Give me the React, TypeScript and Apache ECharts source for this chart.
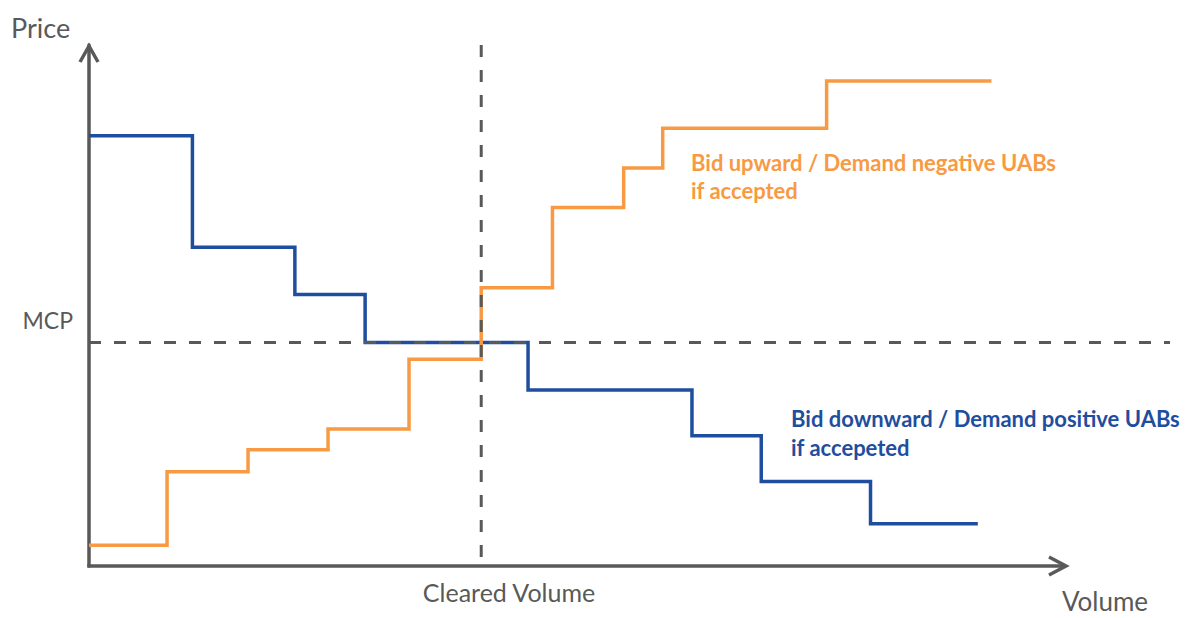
import React, { useEffect, useRef } from "react";
import * as echarts from "echarts";

// Demand (blue, "Bid downward") step curve: volume where each price level starts
const demandVolume = [0, 10.6, 21.1, 28.3, 45.0, 61.8, 68.9, 80.1, 91.1];
const demandPrice = [82.6, 61.2, 52.1, 42.9, 33.8, 25.0, 16.2, 8.1, 8.1];

// Supply (orange, "Bid upward") step curve
const supplyVolume = [0, 8.0, 16.3, 24.5, 32.8, 40.2, 47.5, 54.8, 58.8, 75.6, 92.5];
const supplyPrice = [4.0, 18.1, 22.3, 26.3, 39.7, 53.4, 68.8, 76.4, 84.0, 93.1, 93.1];

const mcp = 42.9;
const clearedVolume = 40.2;
const mcpLineEnd = 110.8;
const volumeMax = 111;
const priceMax = 100;

const GRAY = "#595959";
const BLUE = "#1F4E9E";
const ORANGE = "#F79A43";
const FONT = "Lato, 'Open Sans', sans-serif";

export default function App() {
  const ref = useRef<HTMLDivElement>(null);
  useEffect(() => {
    if (!ref.current) return;
    const chart = echarts.init(ref.current, null, { renderer: "svg" });
    const demand = demandVolume.map((v, i) => [v, demandPrice[i]]);
    const supply = supplyVolume.map((v, i) => [v, supplyPrice[i]]);
    chart.setOption({
      animation: false,
      backgroundColor: "#ffffff",
      grid: { left: 89, top: 45, width: 1083, height: 521 },
      xAxis: {
        type: "value",
        min: 0,
        max: volumeMax,
        axisLine: { show: false },
        axisTick: { show: false },
        axisLabel: { show: false },
        splitLine: { show: false },
      },
      yAxis: {
        type: "value",
        min: 0,
        max: priceMax,
        axisLine: { show: true, lineStyle: { color: GRAY, width: 3.5 } },
        axisTick: { show: false },
        axisLabel: { show: false },
        splitLine: { show: false },
      },
      series: [
        {
          type: "line",
          step: "end",
          data: demand,
          showSymbol: false,
          symbol: "none",
          lineStyle: { color: BLUE, width: 3.5, join: "miter" },
          z: 2,
        },
        {
          type: "line",
          step: "end",
          data: supply,
          showSymbol: false,
          symbol: "none",
          lineStyle: { color: ORANGE, width: 3.5, join: "miter" },
          z: 3,
        },
        {
          type: "line",
          data: [
            [0, mcp],
            [mcpLineEnd, mcp],
          ],
          clip: false,
          symbol: "none",
          lineStyle: { color: GRAY, width: 3, type: [12, 13] },
          z: 4,
        },
        {
          type: "line",
          data: [
            [clearedVolume, priceMax],
            [clearedVolume, 0],
          ],
          clip: false,
          symbol: "none",
          lineStyle: { color: GRAY, width: 3, type: [12, 13] },
          z: 4,
        },
      ],
      graphic: [
        {
          type: "line",
          shape: { x1: 87.25, y1: 566, x2: 1065, y2: 566 },
          style: { stroke: GRAY, lineWidth: 3.5 },
          z: 10,
        },
        {
          type: "polyline",
          shape: { points: [[80, 62], [89, 46], [98, 62]] },
          style: { stroke: GRAY, lineWidth: 3.5, fill: null, lineJoin: "miter" },
          z: 10,
        },
        {
          type: "polyline",
          shape: { points: [[1049, 557], [1066, 566], [1049, 575]] },
          style: { stroke: GRAY, lineWidth: 3.5, fill: null, lineJoin: "miter" },
          z: 10,
        },
        {
          type: "text",
          x: 11,
          y: 27,
          style: { text: "Price", fill: GRAY, font: `27px ${FONT}`, align: "left", verticalAlign: "middle", textAlign: "left", textVerticalAlign: "middle" },
        },
        {
          type: "text",
          x: 73,
          y: 320,
          style: { text: "MCP", fill: GRAY, font: `23px ${FONT}`, align: "right", verticalAlign: "middle", textAlign: "right", textVerticalAlign: "middle" },
        },
        {
          type: "text",
          x: 509,
          y: 592,
          style: { text: "Cleared Volume", fill: GRAY, font: `25px ${FONT}`, align: "center", verticalAlign: "middle", textAlign: "center", textVerticalAlign: "middle" },
        },
        {
          type: "text",
          x: 1105,
          y: 601,
          style: { text: "Volume", fill: GRAY, font: `26px ${FONT}`, align: "center", verticalAlign: "middle", textAlign: "center", textVerticalAlign: "middle" },
        },
        {
          type: "text",
          x: 691,
          y: 148,
          style: {
            text: "Bid upward / Demand negative UABs\nif accepted",
            fill: ORANGE,
            font: `bold 22px ${FONT}`,
            lineHeight: 28,
            align: "left",
            verticalAlign: "top",
            textAlign: "left",
            textVerticalAlign: "top",
          },
        },
        {
          type: "text",
          x: 791,
          y: 404,
          style: {
            text: "Bid downward / Demand positive UABs\nif accepeted",
            fill: BLUE,
            font: `bold 22px ${FONT}`,
            lineHeight: 29,
            align: "left",
            verticalAlign: "top",
            textAlign: "left",
            textVerticalAlign: "top",
          },
        },
      ],
    });
    return () => chart.dispose();
  }, []);
  return (
    <div
      ref={ref}
      style={{ position: "fixed", left: 0, top: 0, width: 1190, height: 618, background: "#fff" }}
    />
  );
}
